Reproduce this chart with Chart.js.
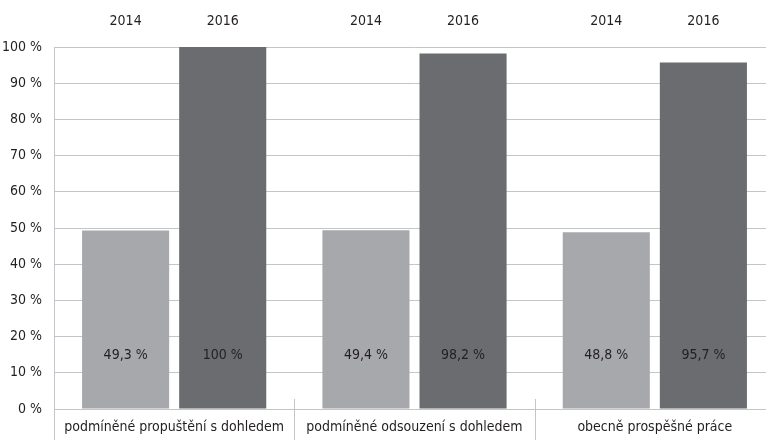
<!DOCTYPE html>
<html>
<head>
<meta charset="utf-8">
<script src="https://cdn.jsdelivr.net/npm/chart.js@4/dist/chart.umd.min.js"></script>
<style>
  html, body { margin: 0; padding: 0; background: #fff; overflow: hidden; }
  #wrap { position: relative; width: 775px; height: 440px; }
</style>
</head>
<body>
<div id="wrap"><canvas id="chart"></canvas></div>
<script>
// --- data ---
const categories = [
  "podmíněné propuštění s dohledem",
  "podmíněné odsouzení s dohledem",
  "obecně prospěšné práce",
];
const years = ["2014", "2016"];
const values2014 = [49.3, 49.4, 48.8];
const values2016 = [100, 98.2, 95.7];
const yTicks = [0, 10, 20, 30, 40, 50, 60, 70, 80, 90, 100];

const FONT = "'Liberation Sans Narrow', 'DejaVu Sans Condensed', 'Roboto Condensed', Roboto, sans-serif";
const TEXT = "#231f20";

function fmt(v) {
  return String(v).replace(".", ",") + " %";
}

// year labels above bars, value labels inside bars, axis line + group separators
const decorations = {
  id: "decorations",
  afterDatasetsDraw(chart) {
    const ctx = chart.ctx;
    const area = chart.chartArea;
    const x = chart.scales.x;
    ctx.save();

    // left axis line and separators between groups
    ctx.strokeStyle = "#c4c5c9";
    ctx.lineWidth = 1;
    ctx.beginPath();
    ctx.moveTo(area.left + 0.5, area.top);
    ctx.lineTo(area.left + 0.5, chart.height);
    const step = x.getPixelForValue(1) - x.getPixelForValue(0);
    for (let i = 1; i < categories.length; i++) {
      const bx = Math.round(x.getPixelForValue(i) - step / 2) + 0.5;
      ctx.moveTo(bx, area.bottom - 10);
      ctx.lineTo(bx, chart.height);
    }
    ctx.stroke();

    ctx.font = "14px " + FONT;
    ctx.fillStyle = TEXT;
    ctx.textAlign = "center";
    ctx.textBaseline = "middle";
    chart.data.datasets.forEach((ds, di) => {
      const meta = chart.getDatasetMeta(di);
      meta.data.forEach((bar, i) => {
        ctx.fillText(ds.label, bar.x, 21);
        ctx.fillText(fmt(ds.data[i]), bar.x, area.bottom - 54);
      });
    });
    ctx.restore();
  },
};

new Chart(document.getElementById("chart"), {
  type: "bar",
  data: {
    labels: categories,
    datasets: [
      {
        label: years[0],
        data: values2014,
        backgroundColor: "#a7a8ac",
        categoryPercentage: 0.808,
        barPercentage: 0.897,
      },
      {
        label: years[1],
        data: values2016,
        backgroundColor: "#6b6c70",
        categoryPercentage: 0.808,
        barPercentage: 0.897,
      },
    ],
  },
  options: {
    responsive: true,
    maintainAspectRatio: false,
    animation: false,
    layout: { padding: { top: 47, bottom: 4, left: 0, right: 0 } },
    plugins: {
      legend: { display: false },
      tooltip: { enabled: false },
    },
    scales: {
      x: {
        grid: { display: false, drawTicks: false },
        border: { display: false },
        afterFit(scale) {
          scale.height = 27;
        },
        ticks: {
          color: TEXT,
          font: { family: FONT, size: 14 },
          padding: 10,
          maxRotation: 0,
          autoSkip: false,
        },
      },
      y: {
        min: 0,
        max: 100,
        afterBuildTicks(scale) {
          scale.ticks = yTicks.map((v) => ({ value: v }));
        },
        afterFit(scale) {
          scale.width = 54;
        },
        grid: { color: "#c4c5c9", lineWidth: 1, drawTicks: false },
        border: { display: false },
        ticks: {
          color: TEXT,
          font: { family: FONT, size: 14 },
          padding: 12,
          callback: (v) => v + " %",
        },
      },
    },
  },
  plugins: [decorations],
});
</script>
</body>
</html>
